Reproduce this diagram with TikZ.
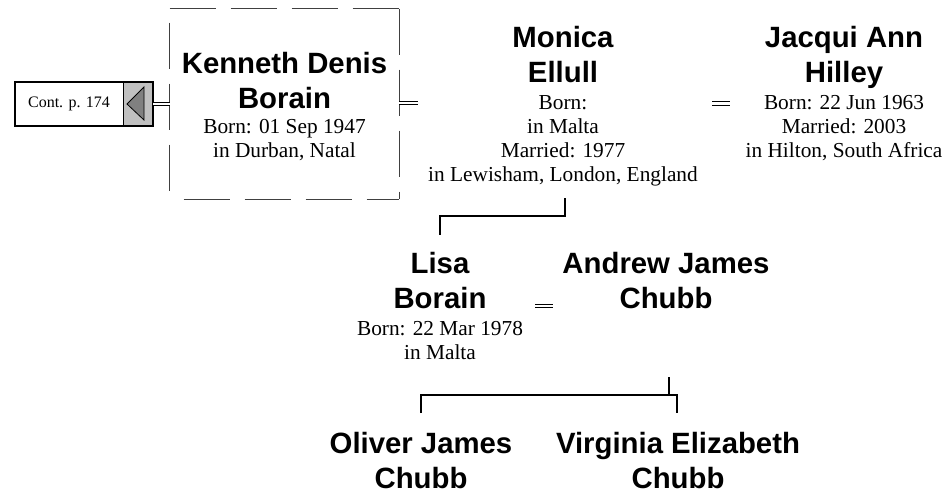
\documentclass[tikz,border=0pt]{standalone}
\usepackage{fontspec}
\setmainfont{Liberation Serif}
\setsansfont{Liberation Sans}
\newcommand\pstack[1]{\begin{tabular}[t]{@{}c@{}}#1\end{tabular}}
\definecolor{boxgrey}{HTML}{C0C0C0}
\definecolor{arrowgrey}{HTML}{808080}
\begin{document}
\begin{tikzpicture}[x=0.75pt,y=-0.75pt,
  namestyle/.style={anchor=base,inner sep=0pt,font=\fontsize{22}{26.25}\selectfont\sffamily\bfseries},
  infostyle/.style={anchor=base,inner sep=0pt,font=\fontsize{16}{18}\selectfont},
  conn/.style={line width=1.1pt},
  marriage/.style={draw=black,double=white,double distance=1.9pt,line width=0.75pt},
  sidedash/.style={draw=black!75,line width=0.8pt,dash pattern=on 34.5pt off 11.25pt},
  sidedashb/.style={sidedash,dash phase=35.25pt},
]
\useasboundingbox (0,0) rectangle (944,493);

% continuation box
\node[draw=black,line width=0.6pt,minimum width=81pt,minimum height=33pt,inner sep=0pt,
      font=\fontsize{12}{14}\selectfont] (cont) at (69,104) {Cont. p. 174};
\node[draw=black,line width=0.6pt,fill=boxgrey,minimum width=21.75pt,minimum height=33pt,
      inner sep=0pt,anchor=west] (arrowbox) at (cont.east) {};
\draw[line width=1.5pt] (cont.north west) rectangle (arrowbox.south east);
\filldraw[fill=arrowgrey,draw=black,line width=0.6pt] (127,104) -- (144,87) -- (144,120) -- cycle;

% Kenneth box
\node[minimum width=171.75pt,minimum height=142.5pt,inner sep=0pt] (kbox) at (284.5,104) {};
\draw[sidedash] (kbox.north west) -- (kbox.north east);
\draw[sidedash] (kbox.north east) -- (kbox.south east);
\draw[sidedashb] (kbox.north west) -- (kbox.south west);
\draw[sidedashb] (kbox.south west) -- (kbox.south east);

\node[namestyle] (kenneth) at (284.5,73) {\pstack{Kenneth Denis\\Borain}};
\node[infostyle] (kinfo) at (284.5,133) {\pstack{Born: 01 Sep 1947\\in Durban, Natal}};

% Monica
\node[namestyle] (monica) at (563,47) {\pstack{Monica\\Ellull}};
\node[infostyle] (minfo) at (563,109) {\pstack{Born:\\in Malta\\Married: 1977\\in Lewisham, London, England}};

% Jacqui
\node[namestyle] (jacqui) at (844,47) {\pstack{Jacqui Ann\\Hilley}};
\node[infostyle] (jinfo) at (844,109) {\pstack{Born: 22 Jun 1963\\Married: 2003\\in Hilton, South Africa}};

% Lisa & Andrew
\node[namestyle] (lisa) at (440,273) {\pstack{Lisa\\Borain}};
\node[infostyle] (linfo) at (440,335) {\pstack{Born: 22 Mar 1978\\in Malta}};
\node[namestyle] (andrew) at (666,273) {\pstack{Andrew James\\Chubb}};

% children
\node[namestyle] (oliver) at (421,453) {\pstack{Oliver James\\Chubb}};
\node[namestyle] (virginia) at (678,453) {\pstack{Virginia Elizabeth\\Chubb}};

% marriage connectors
\coordinate (kmend) at (418,103);
\coordinate (mj1) at (712,103.5);
\coordinate (mj2) at (730,103.5);
\coordinate (la1) at (535,306);
\coordinate (la2) at (553,306);
\draw[marriage] (arrowbox.east) -- (arrowbox.east -| kbox.west);
\draw[marriage] (kbox.east |- kmend) -- (kmend);
\draw[marriage] (mj1) -- (mj2);
\draw[marriage] (la1) -- (la2);

% descent connectors
\coordinate (mdrop) at (565,198);
\coordinate (mbar) at (565,216);
\coordinate (ltop) at (440,235);
\draw[conn] (mdrop) -- (mbar) -| (ltop);

\coordinate (cdrop) at (669,377);
\coordinate (cbar) at (669,395);
\coordinate (otop) at (421,413);
\coordinate (vtop) at (677,413);
\draw[conn] (cdrop) -- (cbar);
\draw[conn] (otop) |- (cbar) -| (vtop);
\end{tikzpicture}
\end{document}
